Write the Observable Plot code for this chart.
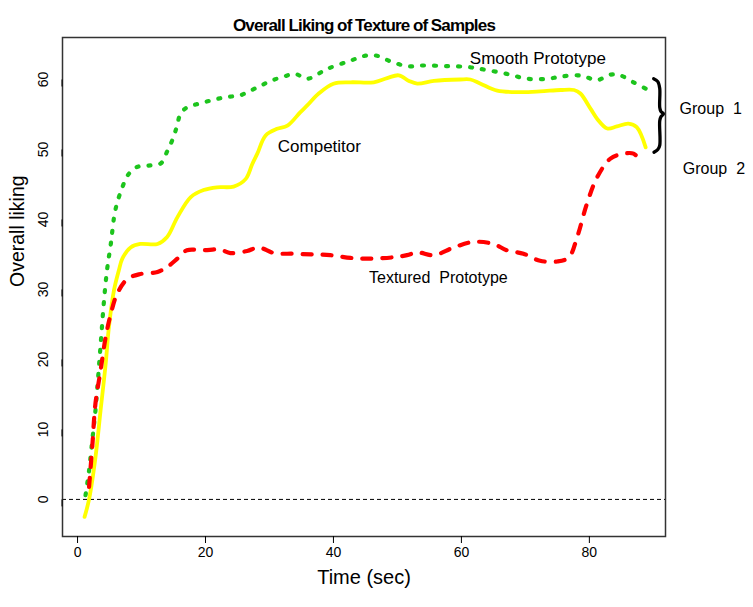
<!DOCTYPE html>
<html>
<head>
<meta charset="utf-8">
<script src="https://cdn.jsdelivr.net/npm/d3@7"></script>
<script src="https://cdn.jsdelivr.net/npm/@observablehq/plot@0.6"></script>
<style>
  html, body { margin: 0; padding: 0; background: #fff; }
  #chart svg { display: block; font-family: "Liberation Sans", Arial, sans-serif; }
</style>
</head>
<body>
<div id="chart"></div>
<script>
// Smooth Prototype (green dotted)
const smoothT = [1.25, 1.8, 2.3, 2.8, 3.3, 3.7, 4.1, 4.6, 5.2, 5.9, 7.0, 8.0, 9.3, 11.1, 13.0, 14.0, 14.8, 15.5, 16.1, 17.1, 19.2, 21.3, 23.2, 25.3, 27.0, 28.6, 30.2, 32.2, 34.0, 35.9, 39.0, 42.7, 45.0, 46.8, 48.9, 51.5, 54.0, 57.8, 60.9, 63.0, 67.1, 70.3, 73.4, 75.5, 78.1, 79.6, 81.2, 83.3, 84.8, 86.9, 88.8];
const smoothV = [0.6, 4.1, 8.4, 12.7, 18.4, 23.2, 28.0, 32.7, 36.5, 41.3, 44.6, 46.5, 47.5, 47.7, 48.0, 49.7, 51.3, 53.2, 55.1, 56.0, 56.6, 57.1, 57.5, 57.7, 58.4, 59.1, 59.8, 60.4, 60.8, 60.1, 61.5, 62.7, 63.4, 63.4, 62.6, 61.9, 62.0, 61.9, 61.8, 61.5, 60.8, 60.1, 60.1, 60.4, 60.6, 60.3, 59.9, 60.7, 60.6, 59.6, 58.7];
// Competitor (yellow solid)
const compT = [1.1, 1.8, 2.8, 3.6, 4.4, 4.9, 5.7, 6.45, 7.0, 8.3, 9.8, 12.5, 14.0, 15.6, 17.7, 19.7, 21.8, 24.4, 26.3, 27.3, 28.1, 29.4, 31.2, 32.8, 34.8, 35.9, 37.7, 40.0, 42.7, 46.3, 48.4, 50.2, 51.8, 53.1, 55.7, 59.8, 61.4, 63.0, 65.6, 69.2, 72.3, 75.5, 77.6, 78.6, 80.2, 81.2, 82.8, 84.3, 86.1, 87.4, 88.8];
const compV = [-2.5, 0, 6.0, 12.7, 19.4, 24.6, 29.9, 32.7, 34.4, 36.0, 36.5, 36.5, 37.5, 40.3, 43.2, 44.2, 44.6, 44.7, 45.8, 47.9, 49.4, 52.0, 52.95, 53.4, 55.3, 56.3, 58.0, 59.4, 59.6, 59.6, 60.2, 60.6, 59.8, 59.4, 59.8, 60.0, 60.0, 59.4, 58.4, 58.2, 58.3, 58.5, 58.5, 58.0, 55.8, 54.4, 53.0, 53.3, 53.7, 53.2, 50.3];
// Textured Prototype (red dashed)
const texT = [1.8, 2.3, 2.8, 3.6, 4.4, 5.2, 6.2, 7.8, 9.8, 12.5, 14.0, 15.6, 17.1, 19.7, 22.3, 23.9, 26.5, 28.3, 30.7, 33.8, 36.9, 39.5, 42.7, 45.8, 49.4, 51.5, 53.1, 55.7, 58.8, 61.9, 65.0, 67.1, 69.7, 72.3, 75.0, 76.8, 78.1, 79.6, 81.2, 83.3, 85.4, 86.9, 88.0];
const texV = [1.8, 7.5, 13.7, 18.4, 23.2, 26.5, 29.4, 31.5, 32.2, 32.5, 33.2, 34.4, 35.6, 35.6, 35.7, 35.2, 35.5, 36.0, 35.2, 35.1, 35.0, 34.9, 34.5, 34.4, 34.6, 34.9, 35.3, 34.9, 36.0, 36.8, 36.5, 35.6, 35.1, 34.1, 34.0, 34.6, 37.5, 42.2, 46.0, 48.7, 49.4, 49.4, 48.4];

const xTicks = [0, 20, 40, 60, 80];
const yTicks = [0, 10, 20, 30, 40, 50, 60];

const titleText = "Overall Liking of Texture of Samples";
const xTitle = "Time (sec)";
const yTitle = "Overall liking";

// curly brace grouping Smooth Prototype and Competitor (data coordinates)
const braceX = [90.05, 90.7, 91.0, 91.0, 91.2, 91.6, 91.2, 91.0, 91.0, 90.7, 90.1];
const braceY = [60.1, 59.7, 58.7, 56.0, 55.4, 55.1, 54.7, 54.1, 50.6, 50.0, 49.6];

const toRows = (T, V) => T.map((t, i) => ({t, v: V[i]}));
const smooth = toRows(smoothT, smoothV);
const comp = toRows(compT, compV);
const tex = toRows(texT, texV);
const brace = braceX.map((x, i) => ({x, y: braceY[i]}));

const font = "Liberation Sans, Arial, sans-serif";

const chart = Plot.plot({
  width: 753,
  height: 607,
  marginTop: 37,
  marginRight: 88,
  marginBottom: 71,
  marginLeft: 62,
  style: {fontFamily: font, background: "#fff"},
  x: {domain: [-2.35, 91.9]},
  y: {domain: [-5.3, 66]},
  marks: [
    Plot.ruleY([0], {stroke: "#000", strokeWidth: 1, strokeDasharray: "4,3"}),
    Plot.line(smooth, {x: "t", y: "v", stroke: "#1dc41d", strokeWidth: 4.2, strokeDasharray: "2,10", strokeLinecap: "round", curve: "catmull-rom"}),
    Plot.line(comp, {x: "t", y: "v", stroke: "#ffff00", strokeWidth: 3.8, curve: "catmull-rom"}),
    Plot.line(tex, {x: "t", y: "v", stroke: "#ff0000", strokeWidth: 4.2, strokeDasharray: "9,11", strokeLinecap: "round", curve: "catmull-rom"}),
    Plot.line(brace, {x: "x", y: "y", stroke: "#000", strokeWidth: 3.3, strokeLinejoin: "round", curve: "catmull-rom"}),
    Plot.frame({stroke: "#333", strokeWidth: 1.5}),
    Plot.axisX({ticks: xTicks, tickSize: 7, tickPadding: 4, fontSize: 14, label: null, tickFormat: d => d}),
    Plot.axisY({ticks: yTicks, tickSize: 7, tickPadding: 12, fontSize: 14, label: null, rotate: -90, textAnchor: "middle", tickFormat: d => d}),
    Plot.text([titleText], {frameAnchor: "top", dy: -19, fontSize: 17, fontWeight: "bold", fill: "#000"}),
    Plot.text([xTitle], {frameAnchor: "bottom", dy: 47, fontSize: 20, fill: "#000"}),
    Plot.text([yTitle], {frameAnchor: "left", dx: -45, rotate: -90, fontSize: 19.5, fill: "#000"}),
    Plot.text(["Smooth Prototype"], {x: 71.95, y: 63.0, fontSize: 17, fill: "#000"}),
    Plot.text(["Competitor"], {x: 37.8, y: 50.4, fontSize: 17, fill: "#000"}),
    Plot.text(["Textured  Prototype"], {x: 56.4, y: 31.6, fontSize: 16, fill: "#000"}),
    Plot.text(["Group  1"], {x: 94.1, y: 55.8, fontSize: 16, textAnchor: "start", fill: "#000"}),
    Plot.text(["Group  2"], {x: 94.6, y: 47.2, fontSize: 16, textAnchor: "start", fill: "#000"})
  ]
});
// condense the title slightly, as in the reference rendering
d3.select(chart).selectAll("text")
  .filter(function() { return this.textContent === titleText; })
  .style("letter-spacing", "-0.8px")
  .style("word-spacing", "-0.5px");
document.getElementById("chart").appendChild(chart);
</script>
</body>
</html>
